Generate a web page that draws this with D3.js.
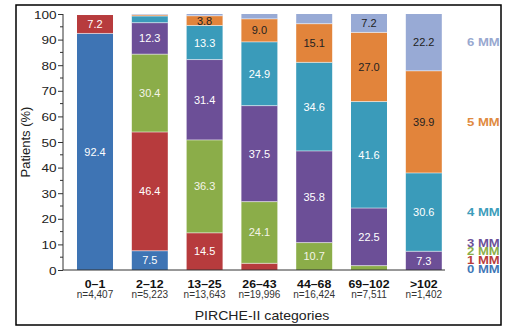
<!DOCTYPE html>
<html><head><meta charset="utf-8">
<script src="https://cdn.jsdelivr.net/npm/d3@7"></script>
<style>
html,body{margin:0;padding:0;background:#fff;}
text{font-family:"Liberation Sans",Arial,Helvetica,sans-serif;}
</style></head>
<body><svg id="c" width="510" height="327"></svg>
<script>
const categories = ["0–1","2–12","13–25","26–43","44–68","69–102",">102"];
const counts = ["n=4,407","n=5,223","n=13,643","n=19,996","n=16,424","n=7,511","n=1,402"];
const seriesNames = ["0 MM","1 MM","2 MM","3 MM","4 MM","5 MM","6 MM"];
const mm0 = [92.4, 7.5, 0, 0, 0, 0, 0];
const mm1 = [7.2, 46.4, 14.5, 2.6, 0, 0, 0];
const mm2 = [0, 30.4, 36.3, 24.1, 10.7, 1.7, 0];
const mm3 = [0, 12.3, 31.4, 37.5, 35.8, 22.5, 7.3];
const mm4 = [0, 2.6, 13.3, 24.9, 34.6, 41.6, 30.6];
const mm5 = [0, 0.5, 3.8, 9.0, 15.1, 27.0, 39.9];
const mm6 = [0, 0.3, 0.7, 1.9, 3.8, 7.2, 22.2];
const yTicks = [0,10,20,30,40,50,60,70,80,90,100];
const hiddenLabels = [["44–68","6 MM"]];

const colors = ["#3e74b4","#b73b3d","#8bad49","#6c4f97","#3a9bba","#e2843b","#98aad5"];
const textColors = ["#fff","#fff","#f4f4e8","#fff","#fff","#222","#222"];
const legendColors = ["#3f77b7","#b83c3d","#8aae48","#6b4f98","#3d9dbb","#e08a40","#98a8d0"];

const allSeries = [mm0,mm1,mm2,mm3,mm4,mm5,mm6];
const table = categories.map((c,i)=>{
  const o = {cat:c};
  seriesNames.forEach((s,j)=>o[s]=allSeries[j][i]);
  return o;
});
const stack = d3.stack().keys(seriesNames)(table);

const svg = d3.select("#c");
const m = {left:63, right:445, top:14, bottom:270};
const x = d3.scaleBand().domain(categories).range([77,441.8]).paddingInner(0.343).paddingOuter(0);
const y = d3.scaleLinear().domain([0,100]).range([m.bottom, m.top]);
const bw = x.bandwidth();

function stretched(sel, px, py, sx){
  sel.attr("transform",(d,i)=>`translate(${typeof px==="function"?px(d,i):px},${typeof py==="function"?py(d,i):py}) scale(${sx},1)`);
  return sel;
}

// frame
svg.append("rect").attr("x",16).attr("y",5).attr("width",485).attr("height",320)
  .attr("fill","none").attr("stroke","#000").attr("stroke-width",1.5);

// bars
const g = svg.append("g");
stack.forEach((layer,j)=>{
  g.selectAll(null).data(layer).enter().append("rect")
    .attr("x",d=>x(d.data.cat))
    .attr("width",bw)
    .attr("y",d=>y(d[1]))
    .attr("height",d=>Math.max(0,y(d[0])-y(d[1])))
    .attr("fill",colors[j]);
});
// separators
stack.forEach((layer,j)=>{
  if(j===0) return;
  g.selectAll(null).data(layer.filter(d=>d[1]-d[0]>0 && d[0]>0)).enter().append("line")
    .attr("x1",d=>x(d.data.cat))
    .attr("x2",d=>x(d.data.cat)+bw)
    .attr("y1",d=>y(d[0])).attr("y2",d=>y(d[0]))
    .attr("stroke","rgba(255,255,255,0.55)").attr("stroke-width",1);
});
// value labels
stack.forEach((layer,j)=>{
  const key = seriesNames[j];
  g.selectAll(null).data(layer.filter(d=>(d[1]-d[0])>=3.5 && !hiddenLabels.some(h=>h[0]===d.data.cat&&h[1]===key)))
    .enter().append("text")
    .attr("x",d=>x(d.data.cat)+bw/2)
    .attr("y",d=>(y(d[0])+y(d[1]))/2)
    .attr("dy","0.36em")
    .attr("text-anchor","middle")
    .attr("font-size",11)
    .attr("fill",textColors[j])
    .text(d=>d.data[key].toFixed(1));
});

// y axis
const ax = svg.append("g").attr("transform",`translate(${m.left},0)`);
ax.append("line").attr("x1",0).attr("x2",0).attr("y1",y(100)).attr("y2",y(0)).attr("stroke","#333").attr("stroke-width",1);
ax.selectAll(null).data(d3.range(5,100,10)).enter().append("line")
  .attr("x1",-3).attr("x2",0).attr("y1",d=>y(d)).attr("y2",d=>y(d)).attr("stroke","#333");
const yAxis = d3.axisLeft(y).tickValues(yTicks).tickSize(5).tickPadding(2).tickFormat(d3.format("d"));
const yg = svg.append("g").attr("transform",`translate(${m.left},0)`).call(yAxis);
yg.select(".domain").remove();
yg.selectAll(".tick line").attr("stroke","#333");
yg.selectAll(".tick text").attr("font-size",11.5).attr("fill","#222")
  .attr("font-family","Liberation Sans, Arial, sans-serif")
  .attr("x",0).attr("dy","0.36em")
  .attr("transform","translate(-6.5,0) scale(1.18,1)");

// x baseline
svg.append("line").attr("x1",m.left).attr("x2",m.right).attr("y1",y(0)).attr("y2",y(0)).attr("stroke","#333").attr("stroke-width",1);

// category labels
const xAxis = d3.axisBottom(x).tickSize(0).tickPadding(0);
const xg = svg.append("g").attr("transform",`translate(0,${y(0)})`).call(xAxis);
xg.select(".domain").remove();
xg.selectAll(".tick text").attr("y",0).attr("dy",0).attr("font-size",11.2).attr("font-weight","bold")
  .attr("fill","#111").attr("font-family","Liberation Sans, Arial, sans-serif")
  .attr("transform","translate(0,18) scale(1.1,1)");
svg.append("g").selectAll(null).data(categories).enter().append("text")
  .attr("x",d=>x(d)+bw/2).attr("y",298).attr("text-anchor","middle")
  .attr("font-size",10).attr("fill","#333").text((d,i)=>counts[i]);

// axis titles
stretched(svg.append("text"),262,320,1.12).attr("text-anchor","middle")
  .attr("font-size",12.6).attr("fill","#222").text("PIRCHE-II categories");
svg.append("text").attr("transform","translate(30,142) rotate(-90)").attr("text-anchor","middle")
  .attr("font-size",13).attr("fill","#222").text("Patients (%)");

// legend
const last = stack.map(layer=>layer[layer.length-1]);
stretched(svg.append("g").selectAll(null).data(seriesNames).enter().append("text"),
  467,
  (d,i)=> i<4 ? 273 - i*8.8 : (y(last[i][0])+y(last[i][1]))/2 + 3.8,
  1.25)
  .attr("font-size",10.5).attr("font-weight","bold")
  .attr("fill",(d,i)=>legendColors[i]).text(d=>d);
</script></body></html>
